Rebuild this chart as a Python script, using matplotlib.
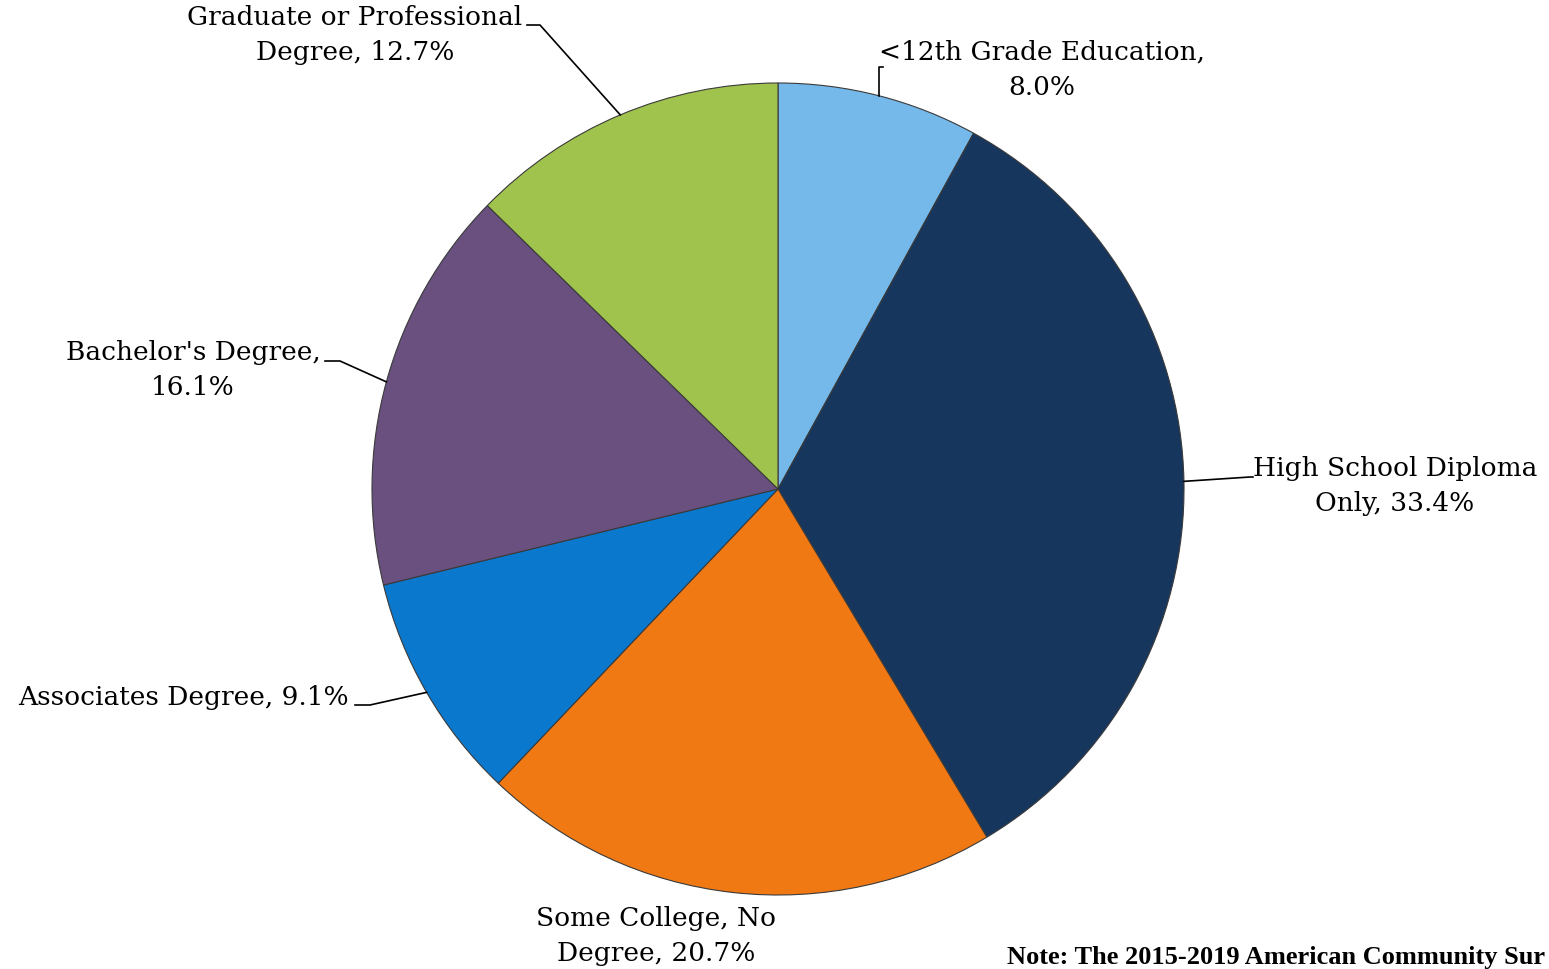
import numpy as np
import matplotlib
matplotlib.use("Agg")
import matplotlib.pyplot as plt

categories = ["<12th Grade Education", "High School Diploma Only", "Some College, No Degree",
              "Associates Degree", "Bachelor's Degree", "Graduate or Professional Degree"]
values = [8.0, 33.4, 20.7, 9.1, 16.1, 12.7]
label_texts = ["<12th Grade Education,\n8.0%", "High School Diploma\nOnly, 33.4%",
               "Some College, No\nDegree, 20.7%", "Associates Degree, 9.1%",
               "Bachelor's Degree,\n16.1%", "Graduate or Professional\nDegree, 12.7%"]
note_text = "Note: The 2015-2019 American Community Sur"
colors = ["#75B8EA", "#17365D", "#F17913", "#0A78CD", "#69507F", "#A0C34E"]

W, H = 1549, 970
fig = plt.figure(figsize=(W / 100, H / 100), dpi=100)
ax = fig.add_axes([0, 0, 1, 1])

cx, cy, R = 778, H - 490, 406
wedges, _ = ax.pie(values, colors=colors, startangle=90, counterclock=False,
                   center=(cx, cy), radius=R, frame=True,
                   wedgeprops=dict(edgecolor="#3a3a3a", linewidth=0.8))
ax.set_xlim(0, W)
ax.set_ylim(0, H)
ax.axis("off")

font = dict(family="DejaVu Serif", fontsize=19, color="black")
LS = 1.5

def edge_point(i):
    w = wedges[i]
    mid = np.deg2rad((w.theta1 + w.theta2) / 2)
    return cx + R * np.cos(mid), cy + R * np.sin(mid)

# <12th
ex, ey = edge_point(0)
ax.plot([ex, ex, ex + 4], [ey, H - 68, H - 68], color="black", lw=1.2)
ax.text(1042, H - 70, label_texts[0], ha="center", va="center", linespacing=LS, **font)
# High school
ex, ey = edge_point(1)
ax.plot([ex, 1250, 1253], [ey, H - 478, H - 478], color="black", lw=1.2)
ax.text(1395, H - 486, label_texts[1], ha="center", va="center", linespacing=LS, **font)
# Some college
ax.text(656, H - 936, label_texts[2], ha="center", va="center", linespacing=LS, **font)
# Associates
ex, ey = edge_point(3)
ax.plot([ex, 370, 355], [ey, H - 706, H - 706], color="black", lw=1.2)
ax.text(349, H - 697, label_texts[3], ha="right", va="center", **font)
# Bachelor's
ex, ey = edge_point(4)
ax.plot([ex, 340, 325], [ey, H - 362, H - 362], color="black", lw=1.2)
ax.text(193, H - 370, label_texts[4], ha="center", va="center", linespacing=LS, **font)
# Graduate
ex, ey = edge_point(5)
ax.plot([ex, 540, 527], [ey, H - 26, H - 26], color="black", lw=1.2)
ax.text(355, H - 35, label_texts[5], ha="center", va="center", linespacing=LS, **font)

ax.text(1007, H - 958, note_text, ha="left", va="center",
        family="Liberation Serif", fontweight="bold", fontsize=19, color="black")

fig.savefig("out.png", dpi=100)
